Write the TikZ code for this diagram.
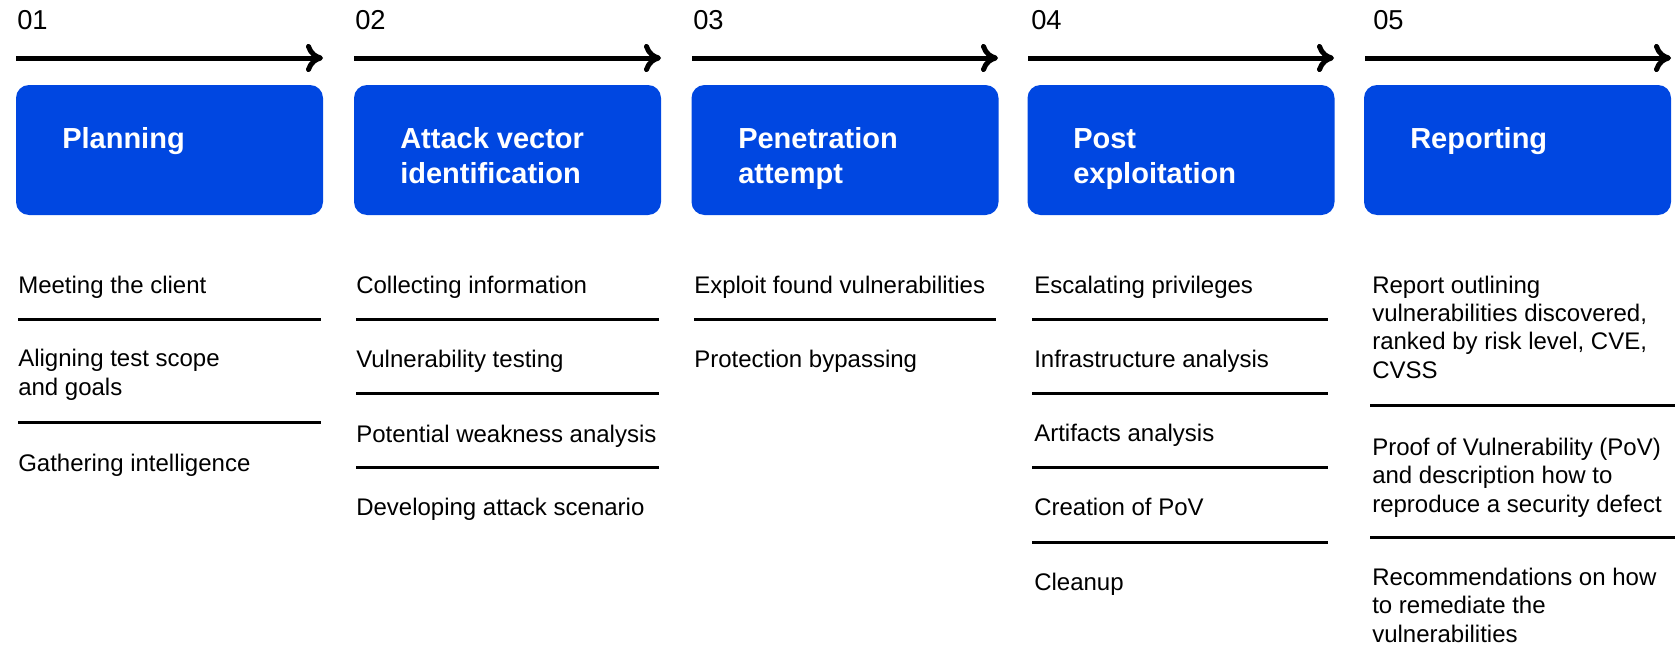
\documentclass[tikz,border=0pt]{standalone}
\usepackage{fontspec}
\setmainfont{Liberation Sans}
\usetikzlibrary{arrows.meta}
\definecolor{stepblue}{RGB}{0,71,225}
\begin{document}
\begin{tikzpicture}[x=0.75pt,y=-0.75pt,
  stepbox/.style={draw=none,fill=stepblue,rounded corners=9.75pt,minimum width=230.25pt,minimum height=97.5pt,inner sep=0pt},
  steptitle/.style={anchor=base west,inner sep=0pt,text=white,align=left,font=\fontsize{21.75pt}{26.25pt}\selectfont\bfseries},
  stepnum/.style={anchor=base west,inner sep=0pt,font=\fontsize{20.5pt}{24pt}\selectfont},
  item/.style={anchor=base west,inner sep=0pt,align=left,font=\fontsize{18pt}{21.2pt}\selectfont},
  flow/.style={line width=3.75pt,-{Computer Modern Rightarrow[length=12.75pt,width=21pt]}},
  divider/.style={line width=2.25pt}
]
\useasboundingbox (0,0) rectangle (1675,646);
% note: for multi-line nodes the base anchor is the baseline of the last line

% ---------- column 1 ----------
\node[stepnum] (n1) at (17,30) {01};
\coordinate (a1s) at (16,58); \coordinate (a1e) at (323,58);
\draw[flow] (a1s) -- (a1e);
\node[stepbox] (b1) at (169.5,150) {};
\node[steptitle] (t1) at (62,148) {Planning};
\node[item] (i11) at (18,293) {Meeting the client};
\coordinate (d11s) at (18,319); \coordinate (d11e) at (321,319);
\draw[divider] (d11s) -- (d11e);
\node[item] (i12) at (18,395) {Aligning test scope\\and goals};
\coordinate (d12s) at (18,422); \coordinate (d12e) at (321,422);
\draw[divider] (d12s) -- (d12e);
\node[item] (i13) at (18,471) {Gathering intelligence};

% ---------- column 2 ----------
\node[stepnum] (n2) at (355,30) {02};
\coordinate (a2s) at (354,58); \coordinate (a2e) at (661,58);
\draw[flow] (a2s) -- (a2e);
\node[stepbox] (b2) at (507.5,150) {};
\node[steptitle] (t2) at (400,183) {Attack vector\\identification};
\node[item] (i21) at (356,293) {Collecting information};
\coordinate (d21s) at (356,319); \coordinate (d21e) at (659,319);
\draw[divider] (d21s) -- (d21e);
\node[item] (i22) at (356,367) {Vulnerability testing};
\coordinate (d22s) at (356,393); \coordinate (d22e) at (659,393);
\draw[divider] (d22s) -- (d22e);
\node[item] (i23) at (356,442) {Potential weakness analysis};
\coordinate (d23s) at (356,467); \coordinate (d23e) at (659,467);
\draw[divider] (d23s) -- (d23e);
\node[item] (i24) at (356,515) {Developing attack scenario};

% ---------- column 3 ----------
\node[stepnum] (n3) at (693,30) {03};
\coordinate (a3s) at (692,58); \coordinate (a3e) at (998,58);
\draw[flow] (a3s) -- (a3e);
\node[stepbox] (b3) at (845,150) {};
\node[steptitle] (t3) at (738,183) {Penetration\\attempt};
\node[item] (i31) at (694,293) {Exploit found vulnerabilities};
\coordinate (d31s) at (694,319); \coordinate (d31e) at (996,319);
\draw[divider] (d31s) -- (d31e);
\node[item] (i32) at (694,367) {Protection bypassing};

% ---------- column 4 ----------
\node[stepnum] (n4) at (1031,30) {04};
\coordinate (a4s) at (1028,58); \coordinate (a4e) at (1334,58);
\draw[flow] (a4s) -- (a4e);
\node[stepbox] (b4) at (1181,150) {};
\node[steptitle] (t4) at (1073,183) {Post\\exploitation};
\node[item] (i41) at (1034,293) {Escalating privileges};
\coordinate (d41s) at (1032,319); \coordinate (d41e) at (1328,319);
\draw[divider] (d41s) -- (d41e);
\node[item] (i42) at (1034,367) {Infrastructure analysis};
\coordinate (d42s) at (1032,393); \coordinate (d42e) at (1328,393);
\draw[divider] (d42s) -- (d42e);
\node[item] (i43) at (1034,441) {Artifacts analysis};
\coordinate (d43s) at (1032,467); \coordinate (d43e) at (1328,467);
\draw[divider] (d43s) -- (d43e);
\node[item] (i44) at (1034,515) {Creation of PoV};
\coordinate (d44s) at (1032,542); \coordinate (d44e) at (1328,542);
\draw[divider] (d44s) -- (d44e);
\node[item] (i45) at (1034,590) {Cleanup};

% ---------- column 5 ----------
\node[stepnum] (n5) at (1373,30) {05};
\coordinate (a5s) at (1365,58); \coordinate (a5e) at (1671,58);
\draw[flow] (a5s) -- (a5e);
\node[stepbox] (b5) at (1517.5,150) {};
\node[steptitle] (t5) at (1410,148) {Reporting};
\node[item] (i51) at (1372,378) {Report outlining\\vulnerabilities discovered,\\ranked by risk level, CVE,\\CVSS};
\coordinate (d51s) at (1370,405); \coordinate (d51e) at (1675,405);
\draw[divider] (d51s) -- (d51e);
\node[item] (i52) at (1372,512) {Proof of Vulnerability (PoV)\\and description how to\\reproduce a security defect};
\coordinate (d52s) at (1370,537); \coordinate (d52e) at (1675,537);
\draw[divider] (d52s) -- (d52e);
\node[item] (i53) at (1372,642) {Recommendations on how\\to remediate the\\vulnerabilities};
\end{tikzpicture}
\end{document}
